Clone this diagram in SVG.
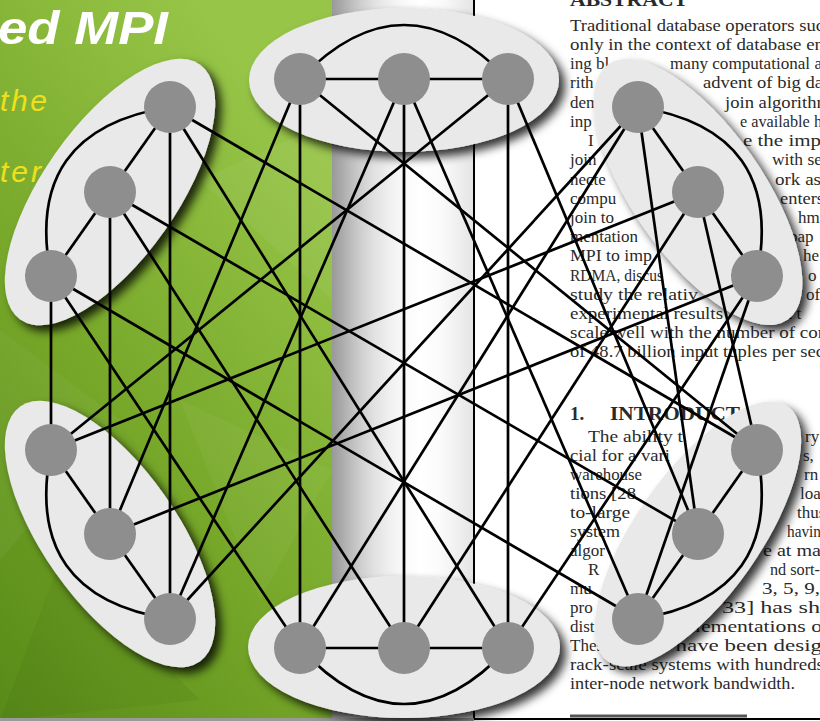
<svg xmlns="http://www.w3.org/2000/svg" width="820" height="721" viewBox="0 0 820 721">
<defs>
  <linearGradient id="green" x1="0" y1="1" x2="0.6" y2="0">
    <stop offset="0" stop-color="#578a18"/>
    <stop offset="0.45" stop-color="#75a628"/>
    <stop offset="1" stop-color="#97c548"/>
  </linearGradient>
  <linearGradient id="stripe" x1="0" y1="0" x2="1" y2="0">
    <stop offset="0" stop-color="#999999"/>
    <stop offset="0.06" stop-color="#a8a8a8"/>
    <stop offset="0.13" stop-color="#bcbcbc"/>
    <stop offset="0.21" stop-color="#d0d0d0"/>
    <stop offset="0.30" stop-color="#e2e2e2"/>
    <stop offset="0.41" stop-color="#f0f0f0"/>
    <stop offset="0.51" stop-color="#fafafa"/>
    <stop offset="0.62" stop-color="#ffffff"/>
    <stop offset="0.76" stop-color="#fbfbfb"/>
    <stop offset="0.88" stop-color="#f0f0f0"/>
    <stop offset="1" stop-color="#e4e4e4"/>
  </linearGradient>
  <filter id="shadow" x="-20%" y="-20%" width="150%" height="150%">
    <feDropShadow dx="6" dy="6" stdDeviation="5" flood-color="#000" flood-opacity="0.8"/>
  </filter>
</defs>
<style>
  .paper{font-family:"Liberation Serif","Times New Roman",serif;font-size:17px;fill:#2a2a2a}
  .hd{font-weight:bold;font-size:19px}
  .cluster{fill:#e9e9e9}
  #connectors line,#connectors path{stroke:#000;stroke-width:2.7;fill:none}
  .node{fill:#8e8e8e}
  .poster{font-family:"Liberation Sans",Arial,sans-serif;font-style:italic}
</style>

<g id="background">
  <rect x="0" y="0" width="332" height="721" fill="url(#green)"/>
  <polygon points="0,330 120,420 0,560" fill="#ffffff" opacity="0.04"/>
  <polygon points="60,560 200,700 0,721" fill="#000000" opacity="0.04"/>
  <polygon points="200,180 332,120 332,300" fill="#ffffff" opacity="0.05"/>
  <polygon points="180,400 332,470 260,600" fill="#ffffff" opacity="0.04"/>
  <rect x="332" y="0" width="142" height="721" fill="url(#stripe)"/>
  <rect x="474" y="0" width="346" height="721" fill="#ffffff"/>
  <line x1="474" y1="0" x2="474" y2="719" stroke="#000" stroke-width="2"/>
  <line x1="474" y1="719" x2="820" y2="719" stroke="#000" stroke-width="2"/>
  <line x1="570" y1="716" x2="747" y2="716" stroke="#555" stroke-width="3"/>
  <rect x="0" y="718" width="474" height="3" fill="#9a9a9a"/>
</g>

<g id="poster-text" class="poster">
  <text x="-2" y="44" font-size="46" font-weight="bold" fill="#ffffff" textLength="170" lengthAdjust="spacingAndGlyphs">ed MPI</text>
  <text x="0" y="111" font-size="30" fill="#f0e01c" textLength="47" lengthAdjust="spacing">the</text>
  <text x="0" y="182" font-size="30" fill="#f0e01c" letter-spacing="3">ter</text>
</g>

<g id="paper-text" class="paper">
  <text x="570" y="6" class="hd" textLength="118" lengthAdjust="spacingAndGlyphs">ABSTRACT</text>
  <text x="570" y="31" textLength="254" lengthAdjust="spacingAndGlyphs">Traditional database operators suc</text>
  <text x="570" y="50" textLength="254" lengthAdjust="spacingAndGlyphs">only in the context of database en</text>
  <text x="570" y="69">ing bl</text><text x="670" y="69" textLength="152" lengthAdjust="spacingAndGlyphs">many computational a</text>
  <text x="570" y="88">rith</text><text x="703" y="88" textLength="120" lengthAdjust="spacingAndGlyphs">advent of big da</text>
  <text x="570" y="108">dem</text><text x="725" y="108" textLength="106" lengthAdjust="spacingAndGlyphs">join algorithm</text>
  <text x="570" y="127">inp</text><text x="740" y="127" textLength="82" lengthAdjust="spacingAndGlyphs">e available h</text>
  <text x="588" y="146">I</text><text x="743" y="146" textLength="78" lengthAdjust="spacingAndGlyphs">e the imp</text>
  <text x="570" y="165">join</text><text x="772" y="165" textLength="50" lengthAdjust="spacingAndGlyphs">with se</text>
  <text x="570" y="185">necte</text><text x="775" y="185" textLength="46" lengthAdjust="spacingAndGlyphs">ork as</text>
  <text x="570" y="204">compu</text><text x="780" y="204" textLength="44" lengthAdjust="spacingAndGlyphs">enters</text>
  <text x="570" y="223">join to</text><text x="798" y="223">hms</text>
  <text x="570" y="242" textLength="68" lengthAdjust="spacingAndGlyphs">mentation</text><text x="789" y="242">pap</text>
  <text x="570" y="261" textLength="82" lengthAdjust="spacingAndGlyphs">MPI to imp</text><text x="803" y="261">he</text>
  <text x="570" y="281" textLength="93" lengthAdjust="spacingAndGlyphs">RDMA, discus</text><text x="808" y="281">o</text>
  <text x="570" y="300" textLength="128" lengthAdjust="spacingAndGlyphs">study the relativ</text><text x="806" y="300">of</text>
  <text x="570" y="319" textLength="153" lengthAdjust="spacingAndGlyphs">experimental results</text><text x="780" y="319">at t</text>
  <text x="570" y="338" textLength="254" lengthAdjust="spacingAndGlyphs">scale well with the number of cor</text>
  <text x="570" y="357" textLength="254" lengthAdjust="spacingAndGlyphs">of 48.7 billion input tuples per sec</text>
  <text x="570" y="420" class="hd">1.</text><text x="610" y="420" class="hd" textLength="130" lengthAdjust="spacingAndGlyphs">INTRODUCT</text>
  <text x="588" y="442" textLength="95" lengthAdjust="spacingAndGlyphs">The ability t</text><text x="805" y="442">ry</text>
  <text x="570" y="461" textLength="100" lengthAdjust="spacingAndGlyphs">cial for a vari</text><text x="803" y="461">s,</text>
  <text x="570" y="480" textLength="72" lengthAdjust="spacingAndGlyphs">warehouse</text><text x="804" y="480">rn</text>
  <text x="570" y="499" textLength="66" lengthAdjust="spacingAndGlyphs">tions [28</text><text x="800" y="499">loa</text>
  <text x="570" y="518" textLength="60" lengthAdjust="spacingAndGlyphs">to-large</text><text x="797" y="518">thus</text>
  <text x="570" y="537" textLength="50" lengthAdjust="spacingAndGlyphs">system</text><text x="787" y="537" textLength="34" lengthAdjust="spacingAndGlyphs">havin</text>
  <text x="570" y="556">algor</text><text x="763" y="556" textLength="58" lengthAdjust="spacingAndGlyphs">e at ma</text>
  <text x="588" y="575">R</text><text x="770" y="575" textLength="50" lengthAdjust="spacingAndGlyphs">nd sort-</text>
  <text x="570" y="594">mu</text><text x="762" y="594" textLength="58" lengthAdjust="spacingAndGlyphs">3, 5, 9,</text>
  <text x="570" y="613">pro</text><text x="722" y="613" textLength="98" lengthAdjust="spacingAndGlyphs">33] has sh</text>
  <text x="570" y="632">dist</text><text x="684" y="632" textLength="138" lengthAdjust="spacingAndGlyphs">plementations o</text>
  <text x="570" y="651">Thes</text><text x="643" y="651" textLength="179" lengthAdjust="spacingAndGlyphs">ms have been desig</text>
  <text x="570" y="670" textLength="254" lengthAdjust="spacingAndGlyphs">rack-scale systems with hundreds</text>
  <text x="570" y="689" textLength="225" lengthAdjust="spacingAndGlyphs">inter-node network bandwidth.</text>
</g>

<g id="clusters" filter="url(#shadow)">
  <g id="cluster-top"><ellipse class="cluster" cx="404" cy="80" rx="155" ry="72"/></g>
  <g id="cluster-bottom"><ellipse class="cluster" cx="404" cy="647" rx="156" ry="71"/></g>
  <g id="cluster-top-left"><ellipse class="cluster" cx="0" cy="0" rx="156" ry="67" transform="translate(110,192) rotate(-54.85)"/></g>
  <g id="cluster-top-right"><ellipse class="cluster" cx="0" cy="0" rx="156" ry="65" transform="translate(698,192) rotate(54.85)"/></g>
  <g id="cluster-bottom-left"><ellipse class="cluster" cx="0" cy="0" rx="156" ry="67" transform="translate(110,534) rotate(54.85)"/></g>
  <g id="cluster-bottom-right"><ellipse class="cluster" cx="0" cy="0" rx="156" ry="62" transform="translate(698,534) rotate(-54.85)"/></g>
</g>

<g id="connectors">
  <line x1="300" y1="79" x2="404" y2="79"/><line x1="404" y1="79" x2="508" y2="79"/>
  <path d="M300,79 Q404,-29 508,79"/>
  <line x1="300" y1="648" x2="404" y2="648"/><line x1="404" y1="648" x2="508" y2="648"/>
  <path d="M300,648 Q404,760 508,648"/>
  <line x1="51" y1="276" x2="110" y2="192"/><line x1="110" y1="192" x2="170" y2="107"/>
  <path d="M51,276 Q22,130 170,107"/>
  <line x1="638" y1="107" x2="698" y2="192"/><line x1="698" y1="192" x2="757" y2="276"/>
  <path d="M638,107 Q786,130 757,276"/>
  <line x1="51" y1="450" x2="110" y2="534"/><line x1="110" y1="534" x2="170" y2="619"/>
  <path d="M51,450 Q22,596 170,619"/>
  <line x1="757" y1="450" x2="698" y2="534"/><line x1="698" y1="534" x2="638" y2="619"/>
  <path d="M757,450 Q786,596 638,619"/>
  <line x1="51" y1="276" x2="51" y2="450"/>
  <line x1="51" y1="276" x2="300" y2="648"/>
  <line x1="51" y1="276" x2="638" y2="619"/>
  <line x1="110" y1="192" x2="110" y2="534"/>
  <line x1="110" y1="192" x2="404" y2="648"/>
  <line x1="110" y1="192" x2="698" y2="534"/>
  <line x1="170" y1="107" x2="170" y2="619"/>
  <line x1="170" y1="107" x2="508" y2="648"/>
  <line x1="170" y1="107" x2="757" y2="450"/>
  <line x1="300" y1="79" x2="110" y2="534"/>
  <line x1="300" y1="79" x2="300" y2="648"/>
  <line x1="300" y1="79" x2="757" y2="450"/>
  <line x1="404" y1="79" x2="170" y2="619"/>
  <line x1="404" y1="79" x2="404" y2="648"/>
  <line x1="404" y1="79" x2="638" y2="619"/>
  <line x1="508" y1="79" x2="51" y2="450"/>
  <line x1="508" y1="79" x2="508" y2="648"/>
  <line x1="508" y1="79" x2="698" y2="534"/>
  <line x1="638" y1="107" x2="170" y2="619"/>
  <line x1="638" y1="107" x2="300" y2="648"/>
  <line x1="638" y1="107" x2="698" y2="534"/>
  <line x1="698" y1="192" x2="51" y2="450"/>
  <line x1="698" y1="192" x2="404" y2="648"/>
  <line x1="698" y1="192" x2="757" y2="450"/>
  <line x1="757" y1="276" x2="110" y2="534"/>
  <line x1="757" y1="276" x2="508" y2="648"/>
  <line x1="757" y1="276" x2="638" y2="619"/>
</g>

<g id="nodes">
  <g id="t1"><circle class="node" cx="300" cy="79" r="26"/></g>
  <g id="t2"><circle class="node" cx="404" cy="79" r="26"/></g>
  <g id="t3"><circle class="node" cx="508" cy="79" r="26"/></g>
  <g id="tr1"><circle class="node" cx="638" cy="107" r="26"/></g>
  <g id="tr2"><circle class="node" cx="698" cy="192" r="26"/></g>
  <g id="tr3"><circle class="node" cx="757" cy="276" r="26"/></g>
  <g id="br1"><circle class="node" cx="757" cy="450" r="26"/></g>
  <g id="br2"><circle class="node" cx="698" cy="534" r="26"/></g>
  <g id="br3"><circle class="node" cx="638" cy="619" r="26"/></g>
  <g id="b1"><circle class="node" cx="508" cy="648" r="26"/></g>
  <g id="b2"><circle class="node" cx="404" cy="648" r="26"/></g>
  <g id="b3"><circle class="node" cx="300" cy="648" r="26"/></g>
  <g id="bl1"><circle class="node" cx="170" cy="619" r="26"/></g>
  <g id="bl2"><circle class="node" cx="110" cy="534" r="26"/></g>
  <g id="bl3"><circle class="node" cx="51" cy="450" r="26"/></g>
  <g id="tl1"><circle class="node" cx="51" cy="276" r="26"/></g>
  <g id="tl2"><circle class="node" cx="110" cy="192" r="26"/></g>
  <g id="tl3"><circle class="node" cx="170" cy="107" r="26"/></g>
</g>
</svg>
